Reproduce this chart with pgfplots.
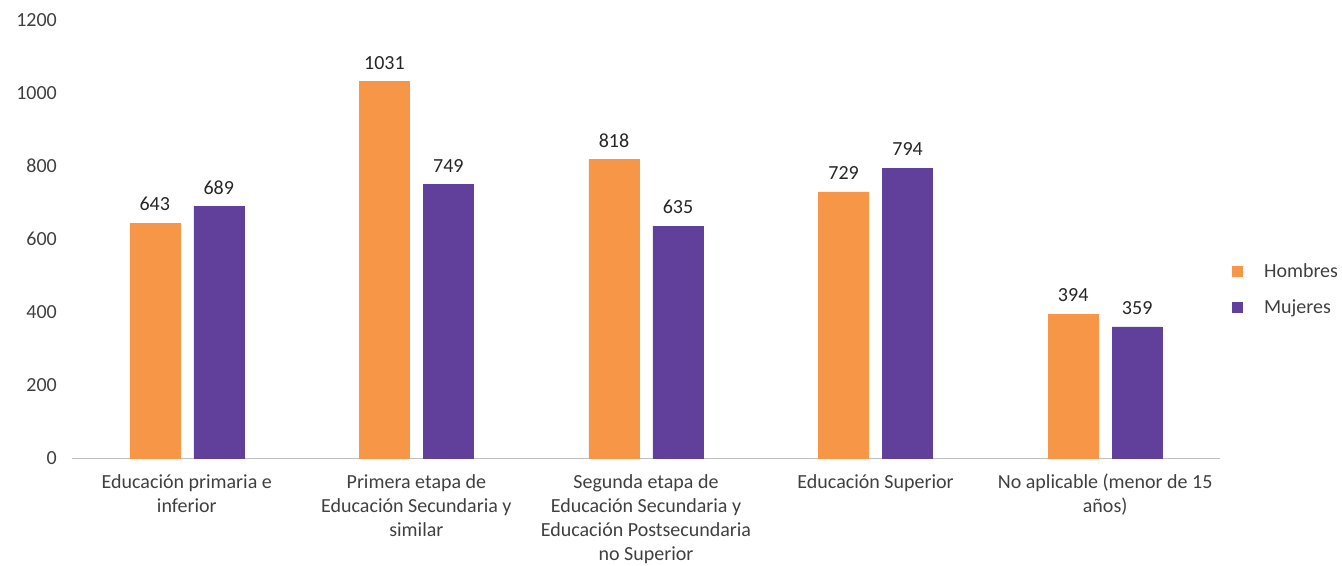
\documentclass[border=0pt]{standalone}
\usepackage{pgfplots}
\pgfplotsset{compat=1.18}
\usepackage{fontspec}
\setmainfont{Carlito}
\definecolor{orng}{HTML}{F79646}
\definecolor{purp}{HTML}{60409A}
\definecolor{txt}{HTML}{404040}
\begin{document}
\begin{tikzpicture}[x=1bp,y=1bp]
\begin{axis}[
  at={(0,0)}, anchor=south west,
  scale only axis, width=1148bp, height=438bp,
  ybar=14bp, bar width=50bp,
  ymin=0, ymax=1200, ytick={0,200,...,1200},
  xmin=-0.5, xmax=4.5, xtick=data,
  xticklabels={{Educación primaria e\\inferior},{Primera etapa de\\Educación Secundaria y\\similar},{Segunda etapa de\\Educación Secundaria y\\Educación Postsecundaria\\no Superior},{Educación Superior},{No aplicable (menor de 15\\años)}},
  axis x line*=bottom, axis y line*=left,
  x axis line style={draw=black!25, line width=1bp},
  y axis line style={draw=none},
  major tick length=0pt,
  /pgf/number format/assume math mode=true,
  /pgf/number format/1000 sep={},
  yticklabel style={font=\fontsize{20bp}{24bp}\selectfont, text=txt, inner sep=0pt, anchor=east, xshift=-15bp},
  xticklabel style={font=\fontsize{20bp}{24bp}\selectfont, text=txt, align=center, inner sep=0pt, anchor=north, yshift=-16bp},
  nodes near coords,
  nodes near coords style={/pgf/number format/1000 sep={}},
  every node near coord/.append style={font=\fontsize{20bp}{24bp}\selectfont, text=black!85, inner sep=0pt, anchor=south, yshift=12bp},
  legend style={at={(1.01,0.386)}, anchor=west, draw=none, fill=none, font=\fontsize{20bp}{24bp}\selectfont, text=txt, row sep=21bp, inner sep=0pt, nodes={inner sep=0pt},
    /tikz/every odd column/.append style={column sep=22bp}},
  legend cell align=left,
  legend image code/.code={\fill[#1] (0bp,-5bp) rectangle (10bp,5bp);},
]
\addplot[fill=orng, draw=orng] coordinates {(0,643) (1,1031) (2,818) (3,729) (4,394)};
\addplot[fill=purp, draw=purp] coordinates {(0,689) (1,749) (2,635) (3,794) (4,359)};
\legend{Hombres, Mujeres}
\end{axis}
\pgfresetboundingbox
\useasboundingbox (-72bp,-108bp) rectangle (1270bp,458bp);
\end{tikzpicture}
\end{document}
